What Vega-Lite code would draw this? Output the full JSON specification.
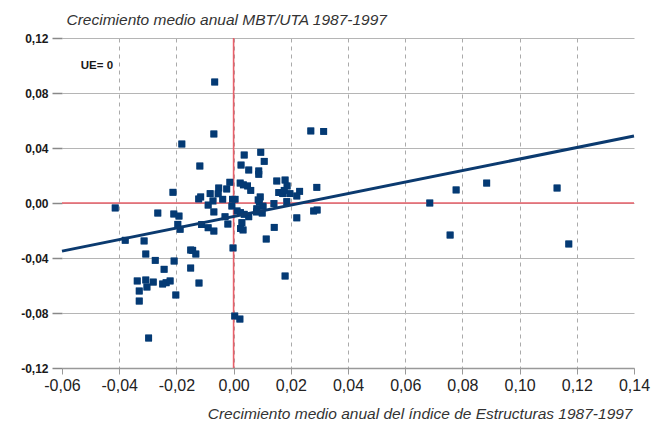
{
  "$schema": "https://vega.github.io/schema/vega-lite/v6.json",
  "width": 572,
  "height": 330,
  "autosize": {"type": "none"},
  "padding": {"left": 62, "top": 38, "right": 29, "bottom": 58},
  "background": "white",
  "config": {
    "view": {"stroke": null},
    "font": "Liberation Sans"
  },
  "datasets": {
    "pts": [
      {"ie": -0.0066, "mbt": 0.0880}, {"ie": -0.0069, "mbt": 0.0502}, {"ie": -0.0181, "mbt": 0.0429}, {"ie": 0.0270, "mbt": 0.0524}, {"ie": 0.0315, "mbt": 0.0521},
      {"ie": 0.0037, "mbt": 0.0349}, {"ie": 0.0095, "mbt": 0.0369}, {"ie": 0.0107, "mbt": 0.0303}, {"ie": 0.0026, "mbt": 0.0276}, {"ie": -0.0118, "mbt": 0.0269},
      {"ie": 0.0053, "mbt": 0.0240}, {"ie": 0.0088, "mbt": 0.0233}, {"ie": 0.0088, "mbt": 0.0209},
      {"ie": -0.0013, "mbt": 0.0151}, {"ie": 0.0023, "mbt": 0.0145}, {"ie": 0.0034, "mbt": 0.0132}, {"ie": 0.0049, "mbt": 0.0124}, {"ie": 0.0060, "mbt": 0.0092},
      {"ie": -0.0052, "mbt": 0.0109}, {"ie": -0.0024, "mbt": 0.0102}, {"ie": -0.0054, "mbt": 0.0067}, {"ie": -0.0082, "mbt": 0.0068}, {"ie": -0.0115, "mbt": 0.0044},
      {"ie": -0.0122, "mbt": 0.0029}, {"ie": -0.0072, "mbt": 0.0015}, {"ie": -0.0089, "mbt": -0.0015}, {"ie": -0.0038, "mbt": 0.0027}, {"ie": -0.0004, "mbt": 0.0027},
      {"ie": 0.0005, "mbt": 0.0027}, {"ie": 0.0151, "mbt": 0.0160}, {"ie": 0.0180, "mbt": 0.0167}, {"ie": 0.0187, "mbt": 0.0124}, {"ie": 0.0158, "mbt": 0.0076},
      {"ie": 0.0172, "mbt": 0.0068}, {"ie": 0.0177, "mbt": 0.0092}, {"ie": 0.0197, "mbt": 0.0068}, {"ie": 0.0231, "mbt": 0.0085}, {"ie": 0.0221, "mbt": 0.0051},
      {"ie": 0.0291, "mbt": 0.0114}, {"ie": 0.0093, "mbt": 0.0044}, {"ie": 0.0086, "mbt": 0.0022}, {"ie": 0.0090, "mbt": 0.0007}, {"ie": 0.0103, "mbt": -0.0022},
      {"ie": 0.0141, "mbt": -0.0004}, {"ie": 0.0186, "mbt": 0.0010}, {"ie": -0.0006, "mbt": -0.0022}, {"ie": -0.0212, "mbt": 0.0078}, {"ie": -0.0414, "mbt": -0.0036},
      {"ie": -0.0069, "mbt": -0.0065}, {"ie": 0.0012, "mbt": -0.0058}, {"ie": 0.0024, "mbt": -0.0070}, {"ie": 0.0037, "mbt": -0.0082}, {"ie": 0.0053, "mbt": -0.0100},
      {"ie": 0.0081, "mbt": -0.0042}, {"ie": 0.0080, "mbt": -0.0065}, {"ie": 0.0100, "mbt": -0.0073}, {"ie": -0.0030, "mbt": -0.0100}, {"ie": -0.0112, "mbt": -0.0157},
      {"ie": -0.0089, "mbt": -0.0180}, {"ie": -0.0069, "mbt": -0.0204}, {"ie": -0.0020, "mbt": -0.0153}, {"ie": 0.0029, "mbt": -0.0143}, {"ie": 0.0024, "mbt": -0.0186},
      {"ie": 0.0033, "mbt": -0.0196}, {"ie": 0.0142, "mbt": -0.0177}, {"ie": 0.0221, "mbt": -0.0108}, {"ie": 0.0280, "mbt": -0.0058}, {"ie": 0.0292, "mbt": -0.0051},
      {"ie": 0.0114, "mbt": -0.0262}, {"ie": -0.0265, "mbt": -0.0073}, {"ie": -0.0209, "mbt": -0.0080}, {"ie": -0.0191, "mbt": -0.0095}, {"ie": -0.0195, "mbt": -0.0155},
      {"ie": -0.0187, "mbt": -0.0191}, {"ie": -0.0002, "mbt": -0.0327},
      {"ie": -0.0379, "mbt": -0.0271}, {"ie": -0.0313, "mbt": -0.0276}, {"ie": -0.0150, "mbt": -0.0342}, {"ie": -0.0143, "mbt": -0.0344}, {"ie": -0.0132, "mbt": -0.0371},
      {"ie": -0.0307, "mbt": -0.0371}, {"ie": -0.0274, "mbt": -0.0417}, {"ie": -0.0208, "mbt": -0.0422}, {"ie": -0.0243, "mbt": -0.0482}, {"ie": -0.0150, "mbt": -0.0473},
      {"ie": -0.0337, "mbt": -0.0567}, {"ie": -0.0307, "mbt": -0.0560}, {"ie": -0.0281, "mbt": -0.0575}, {"ie": -0.0303, "mbt": -0.0611}, {"ie": -0.0248, "mbt": -0.0589},
      {"ie": -0.0236, "mbt": -0.0580}, {"ie": -0.0222, "mbt": -0.0567}, {"ie": -0.0121, "mbt": -0.0582}, {"ie": -0.0330, "mbt": -0.0640}, {"ie": -0.0202, "mbt": -0.0669},
      {"ie": -0.0330, "mbt": -0.0713}, {"ie": 0.0004, "mbt": -0.0822}, {"ie": 0.0022, "mbt": -0.0844}, {"ie": -0.0297, "mbt": -0.0982}, {"ie": 0.0180, "mbt": -0.0531},
      {"ie": 0.0686, "mbt": 0.0000}, {"ie": 0.0778, "mbt": 0.0095}, {"ie": 0.0885, "mbt": 0.0145}, {"ie": 0.1131, "mbt": 0.0109}, {"ie": 0.0757, "mbt": -0.0233},
      {"ie": 0.1172, "mbt": -0.0298}
    ],
    "trend": [
      {"ie": -0.06, "mbt": -0.0350},
      {"ie": 0.14, "mbt": 0.0487}
    ],
    "ref": [
      {"ie": 0, "mbt": 0}
    ],
    "note": [
      {"ie": -0.0478, "mbt": 0.0994, "txt": "UE= 0"}
    ]
  },
  "layer": [
    {
      "data": {"name": "pts"},
      "mark": {"type": "square", "size": 46, "filled": true, "opacity": 1, "color": "#043a74"},
      "encoding": {
        "x": {
          "field": "ie", "type": "quantitative",
          "scale": {"domain": [-0.06, 0.14], "nice": false, "zero": false},
          "axis": {
            "orient": "bottom",
            "values": [-0.06, -0.04, -0.02, 0, 0.02, 0.04, 0.06, 0.08, 0.10, 0.12, 0.14],
            "labelExpr": "replace(replace(format(datum.value, '.2f'), '.', ','), '\u2212', '-')",
            "labelFontSize": 16,
            "labelColor": "#222222",
            "labelPadding": 3,
            "labelFlush": false,
            "tickSize": 6,
            "tickColor": "#999999",
            "domain": true,
            "domainColor": "#999999",
            "domainWidth": 1.5,
            "grid": true,
            "gridDash": [4, 4],
            "gridColor": "#aaaaaa",
            "gridOpacity": {"condition": {"test": "datum.value <= -0.059 || datum.value >= 0.139", "value": 0}, "value": 1},
            "title": "Crecimiento medio anual del índice de Estructuras 1987-1997",
            "titleFontStyle": "italic",
            "titleFontWeight": "normal",
            "titleFontSize": 15.5,
            "titleColor": "#333333",
            "titleAlign": "right",
            "titleAnchor": null,
            "titleBaseline": "alphabetic",
            "titleX": 570,
            "titleY": 50
          }
        },
        "y": {
          "field": "mbt", "type": "quantitative",
          "scale": {"domain": [-0.12, 0.12], "nice": false, "zero": false},
          "axis": {
            "orient": "left",
            "values": [-0.12, -0.08, -0.04, 0, 0.04, 0.08, 0.12],
            "labelExpr": "replace(replace(format(datum.value, '.2f'), '.', ','), '\u2212', '-')",
            "labelFontSize": 12,
            "labelFontWeight": "bold",
            "labelColor": "#1a1a1a",
            "labelPadding": 4,
            "labelFlush": false,
            "tickSize": 10,
            "tickColor": "#888888",
            "tickWidth": 1.5,
            "domain": false,
            "grid": true,
            "gridColor": "#b5b5b5",
            "gridWidth": 1.2,
            "title": "Crecimiento medio anual MBT/UTA 1987-1997",
            "titleAngle": 0,
            "titleFontStyle": "italic",
            "titleFontWeight": "normal",
            "titleFontSize": 15.5,
            "titleColor": "#333333",
            "titleAlign": "left",
            "titleAnchor": null,
            "titleBaseline": "alphabetic",
            "titleX": 4,
            "titleY": -14
          }
        }
      }
    },
    {
      "data": {"name": "ref"},
      "mark": {"type": "rule", "color": "#e8606a", "strokeWidth": 1.6},
      "encoding": {"x": {"field": "ie", "type": "quantitative"}}
    },
    {
      "data": {"name": "ref"},
      "mark": {"type": "rule", "color": "#e8606a", "strokeWidth": 1.6},
      "encoding": {"y": {"field": "mbt", "type": "quantitative"}}
    },
    {
      "data": {"name": "pts"},
      "mark": {"type": "square", "size": 46, "filled": true, "opacity": 1, "color": "#043a74"},
      "encoding": {
        "x": {"field": "ie", "type": "quantitative"},
        "y": {"field": "mbt", "type": "quantitative"}
      }
    },
    {
      "data": {"name": "trend"},
      "mark": {"type": "line", "color": "#0b3a6f", "strokeWidth": 3},
      "encoding": {
        "x": {"field": "ie", "type": "quantitative"},
        "y": {"field": "mbt", "type": "quantitative"}
      }
    },
    {
      "data": {"name": "note"},
      "mark": {"type": "text", "fontSize": 11.5, "fontWeight": "bold", "color": "#1a1a1a", "align": "center", "baseline": "middle"},
      "encoding": {
        "x": {"field": "ie", "type": "quantitative"},
        "y": {"field": "mbt", "type": "quantitative"},
        "text": {"field": "txt"}
      }
    }
  ]
}
